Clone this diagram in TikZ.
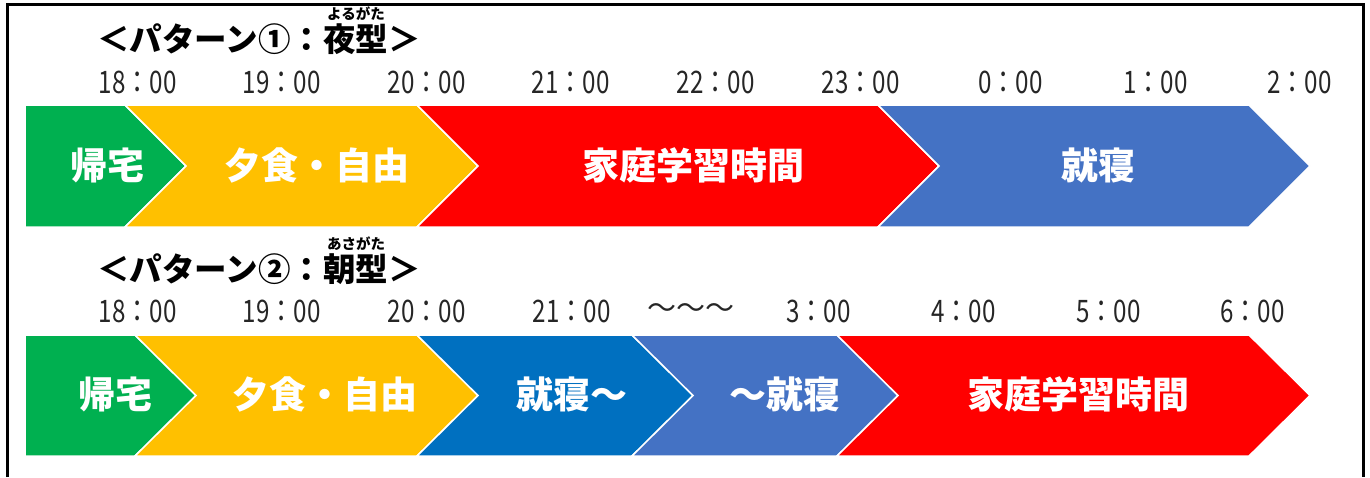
\documentclass[tikz,border=0pt]{standalone}
\usepackage{fontspec}
\usepackage{graphicx}
\newfontfamily\jpfont{Noto Sans CJK JP}
\definecolor{cgreen}{HTML}{00B050}
\definecolor{cyellow}{HTML}{FFC000}
\definecolor{cred}{HTML}{FF0000}
\definecolor{cblue}{HTML}{4472C4}
\definecolor{cdblue}{HTML}{0070C0}
\definecolor{timegray}{HTML}{262626}
\tikzset{
  seg/.style={draw=white, line width=1.5pt, line join=miter},
  lbl/.style={text=white, font=\jpfont\bfseries\fontsize{37}{42}\selectfont, inner sep=0pt},
  tm/.style={text=timegray, font=\jpfont\fontsize{31}{36}\selectfont, inner sep=0pt, anchor=east},
  ttl/.style={font=\jpfont\bfseries\fontsize{32.5}{38}\selectfont, inner sep=0pt},
  rubytxt/.style={font=\jpfont\bfseries\fontsize{14.5}{16}\selectfont, inner sep=0pt},
  frame/.style={draw=black, line width=3pt},
}
\newcommand{\tnarrow}[1]{\scalebox{0.78}[1]{#1}}
\newcommand{\mychev}[5]{\path[seg, fill=#5] (#1,#3) -- (#2,#3) -- ({#2+61},{(#3+#4)/2}) -- (#2,#4) -- (#1,#4) -- ({#1+61},{(#3+#4)/2}) -- cycle;}
\newcommand{\myfirst}[5]{\path[seg, fill=#5] (#1,#3) -- (#2,#3) -- ({#2+61},{(#3+#4)/2}) -- (#2,#4) -- (#1,#4) -- cycle;}
\begin{document}
\begin{tikzpicture}[x=1pt,y=-1pt]
\useasboundingbox[fill=white] (0,0) rectangle (1370,477);
\draw[frame] (7,477) -- (7,4) -- (1363.5,4) -- (1363.5,477);

% ---------- Pattern 1 ----------
\node[ttl] (t1) at (259,39) {＜パターン①：夜型＞};
\node[rubytxt] (r1) at (356,14) {よるがた};

\node[tm] (a18) at (177,82) {\tnarrow{18：00}};
\node[tm] (a19) at (321,82) {\tnarrow{19：00}};
\node[tm] (a20) at (466,82) {\tnarrow{20：00}};
\node[tm] (a21) at (610,82) {\tnarrow{21：00}};
\node[tm] (a22) at (755,82) {\tnarrow{22：00}};
\node[tm] (a23) at (900,82) {\tnarrow{23：00}};
\node[tm] (a0) at (1043,82) {\tnarrow{0：00}};
\node[tm] (a1) at (1188,82) {\tnarrow{1：00}};
\node[tm] (a2) at (1332,82) {\tnarrow{2：00}};

\myfirst{25}{125}{105}{227}{cgreen}
\mychev{125}{417}{105}{227}{cyellow}
\mychev{417}{878}{105}{227}{cred}
\mychev{878}{1249}{105}{227}{cblue}

\node[lbl] (p1a) at (107,165) {帰宅};
\node[lbl] (p1b) at (317,165) {夕食・自由};
\node[lbl] (p1c) at (693,165) {家庭学習時間};
\node[lbl] (p1d) at (1098,165) {就寝};

% ---------- Pattern 2 ----------
\node[ttl] (t2) at (259,269) {＜パターン②：朝型＞};
\node[rubytxt] (r2) at (356,244) {あさがた};

\node[tm] (b18) at (177,311) {\tnarrow{18：00}};
\node[tm] (b19) at (321,311) {\tnarrow{19：00}};
\node[tm] (b20) at (466,311) {\tnarrow{20：00}};
\node[tm] (b21) at (611,311) {\tnarrow{21：00}};
\node[text=timegray, font=\jpfont\fontsize{29}{34}\selectfont, inner sep=0pt] (bw) at (691,311) {～～～};
\node[tm] (b3) at (851,311) {\tnarrow{3：00}};
\node[tm] (b4) at (996,311) {\tnarrow{4：00}};
\node[tm] (b5) at (1141,311) {\tnarrow{5：00}};
\node[tm] (b6) at (1285,311) {\tnarrow{6：00}};

\myfirst{25}{135}{335}{456}{cgreen}
\mychev{135}{417}{335}{456}{cyellow}
\mychev{417}{632}{335}{456}{cdblue}
\mychev{632}{837}{335}{456}{cblue}
\mychev{837}{1249}{335}{456}{cred}

\node[lbl] (p2a) at (115,394) {帰宅};
\node[lbl] (p2b) at (325,394) {夕食・自由};
\node[lbl] (p2c) at (572,394) {就寝～};
\node[lbl] (p2d) at (785,394) {～就寝};
\node[lbl] (p2e) at (1078,394) {家庭学習時間};
\end{tikzpicture}
\end{document}
